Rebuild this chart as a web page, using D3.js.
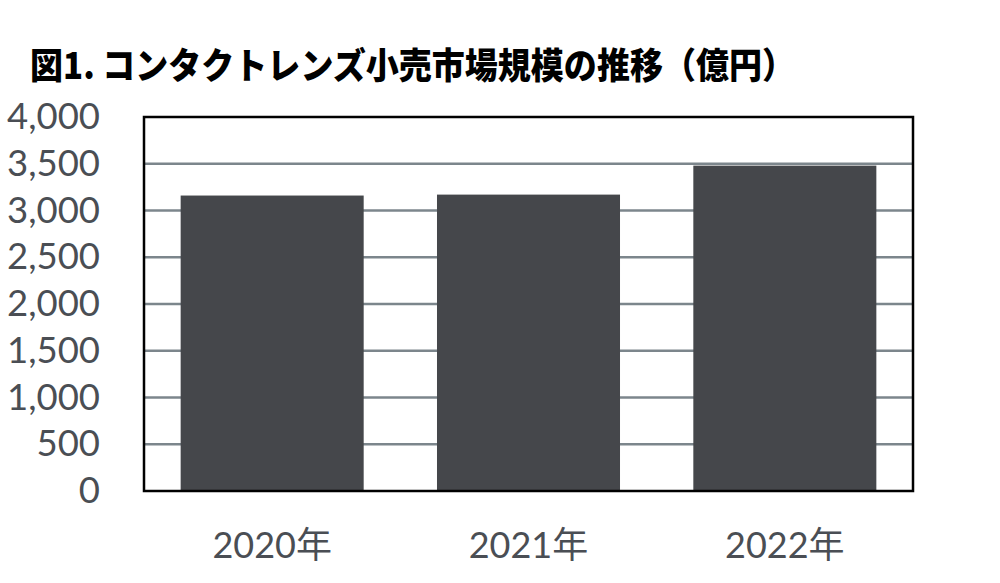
<!DOCTYPE html>
<html lang="ja">
<head>
<meta charset="UTF-8">
<title>コンタクトレンズ小売市場規模の推移</title>
<style>
  body { margin: 0; background: #fff; }
  svg { display: block; }
</style>
<script src="https://d3js.org/d3.v7.min.js"></script>
</head>
<body>
<svg id="chart" width="1000" height="583"></svg>
<script>
const titleText = "図1. コンタクトレンズ小売市場規模の推移（億円）";
const years = ["2020年", "2021年", "2022年"];
const sales = [3160, 3170, 3480];
const yTicks = [0, 500, 1000, 1500, 2000, 2500, 3000, 3500, 4000];

const W = 1000, H = 583;
const m = { left: 144, right: 87, top: 117, bottom: 92 };

const svg = d3.select("#chart");

svg.append("text")
    .attr("x", 30)
    .attr("y", 79)
    .attr("font-family", "'Noto Sans CJK JP', sans-serif")
    .attr("font-weight", 900)
    .attr("font-size", 36)
    .attr("fill", "#000")
    .attr("textLength", 765)
    .attr("lengthAdjust", "spacingAndGlyphs")
    .text(titleText);

const x = d3.scaleBand()
    .domain(years)
    .range([m.left, W - m.right])
    .paddingInner(0.286)
    .paddingOuter(0.143);

const y = d3.scaleLinear()
    .domain([0, 4000])
    .range([H - m.bottom, m.top]);

// gridlines
svg.append("g")
    .selectAll("line")
    .data(yTicks.filter(d => d > 0 && d < 4000))
    .join("line")
    .attr("x1", m.left)
    .attr("x2", W - m.right)
    .attr("y1", d => y(d))
    .attr("y2", d => y(d))
    .attr("stroke", "#7c868c")
    .attr("stroke-width", 2.5);

// bars
svg.append("g")
    .selectAll("rect")
    .data(sales)
    .join("rect")
    .attr("x", (d, i) => x(years[i]))
    .attr("y", d => y(d))
    .attr("width", x.bandwidth())
    .attr("height", d => y(0) - y(d))
    .attr("fill", "#45474b");

// frame
svg.append("rect")
    .attr("x", m.left)
    .attr("y", m.top)
    .attr("width", W - m.left - m.right)
    .attr("height", y(0) - m.top)
    .attr("fill", "none")
    .attr("stroke", "#000")
    .attr("stroke-width", 2.5);

// y axis labels
const yAxis = svg.append("g")
    .attr("transform", `translate(${m.left},0)`)
    .call(d3.axisLeft(y).tickValues(yTicks).tickSize(0).tickPadding(44)
        .tickFormat(d3.format(",")));
yAxis.select(".domain").remove();
yAxis.selectAll("text")
    .attr("font-family", "Lato, sans-serif")
    .attr("font-size", 36.5)
    .attr("fill", "#4a4e54");

// x axis labels
const xAxis = svg.append("g")
    .attr("transform", `translate(0,${y(0)})`)
    .call(d3.axisBottom(x).tickSize(0).tickPadding(41));
xAxis.select(".domain").remove();
xAxis.selectAll("text")
    .attr("font-family", "Lato, 'Noto Sans CJK JP', sans-serif")
    .attr("font-size", 36)
    .attr("fill", "#4a4e54");
</script>
</body>
</html>
